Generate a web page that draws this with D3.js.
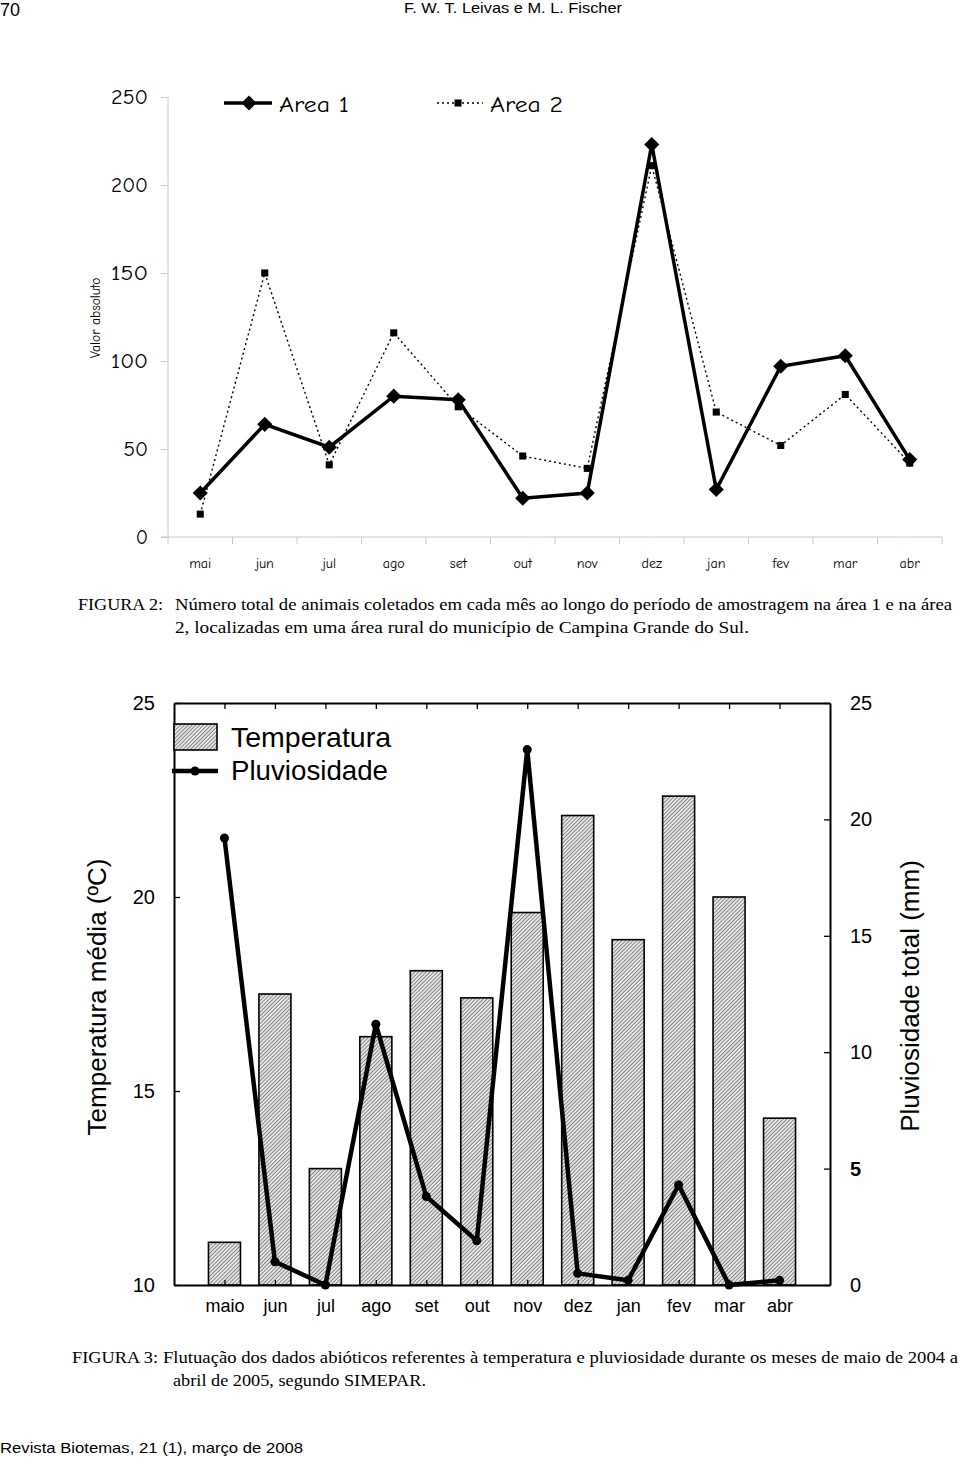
<!DOCTYPE html>
<html>
<head>
<meta charset="utf-8">
<script src="https://cdn.jsdelivr.net/npm/d3@7"></script>
<style>
  html, body { margin: 0; padding: 0; background: #fff; }
  svg { display: block; }
</style>
</head>
<body>
<svg id="page" width="960" height="1458"></svg>
<script>
// ---------- DATA ----------
const months1 = ['mai','jun','jul','ago','set','out','nov','dez','jan','fev','mar','abr'];
const area1 = [25, 64, 51, 80, 78, 22, 25, 223, 27, 97, 103, 44];
const area2 = [13, 150, 41, 116, 74, 46, 39, 211, 71, 52, 81, 42];
const yTicks1 = [0, 50, 100, 150, 200, 250];

const months2 = ['maio','jun','jul','ago','set','out','nov','dez','jan','fev','mar','abr'];
const temperatura = [11.1, 17.5, 13.0, 16.4, 18.1, 17.4, 19.6, 22.1, 18.9, 22.6, 20.0, 14.3];
const pluviosidade = [19.2, 1.0, 0.0, 11.2, 3.8, 1.9, 23.0, 0.5, 0.2, 4.3, 0.0, 0.2];
const tempTicks = [10, 15, 20, 25];
const pluvTicks = [0, 5, 10, 15, 20, 25];

// ---------- SETUP ----------
const svg = d3.select('#page');
const SANS = "'Liberation Sans', Arial, sans-serif";
const SERIF = "'Liberation Serif', 'Times New Roman', serif";
const COMIC = "'Comic Sans MS', 'Comic Neue', 'DejaVu Sans', sans-serif";

// page header / footer
svg.append('text').attr('x', 0).attr('y', 16).attr('font-family', SANS).attr('font-size', 18).text('70');
svg.append('text').attr('x', 404).attr('y', 13).attr('font-family', SANS).attr('font-size', 15)
  .attr('textLength', 218).attr('lengthAdjust', 'spacingAndGlyphs').text('F. W. T. Leivas e M. L. Fischer');
svg.append('text').attr('x', 0).attr('y', 1453).attr('font-family', SANS).attr('font-size', 15)
  .attr('textLength', 303).attr('lengthAdjust', 'spacingAndGlyphs').text('Revista Biotemas, 21 (1),  março de 2008');

// ---------- CHART 1 ----------
const g1 = svg.append('g');
const x1 = d3.scaleBand().domain(months1).range([168, 942]);
const y1 = d3.scaleLinear().domain([0, 250]).range([537, 97]);

// y axis
const yAx1 = g1.append('g').attr('transform', 'translate(168,0)')
  .call(d3.axisLeft(y1).tickValues(yTicks1).tickSize(7).tickPadding(13));
yAx1.selectAll('path, line').attr('stroke', '#c8c8c8');
yAx1.select('.domain').attr('d', `M0,${y1(250)}V${y1(0)}`);
yAx1.selectAll('text').attr('font-family', COMIC).attr('font-size', 21).attr('fill', '#000')
  .attr('textLength', d => String(d).length * 12.3).attr('lengthAdjust', 'spacingAndGlyphs');

// x axis
const xAx1 = g1.append('g').attr('transform', 'translate(0,537)');
xAx1.append('line').attr('x1', 161).attr('x2', x1.range()[1]).attr('y1', 0).attr('y2', 0).attr('stroke', '#c8c8c8');
xAx1.selectAll('line.tk').data(months1.concat(['_end'])).enter().append('line')
  .attr('class', 'tk')
  .attr('x1', (d, i) => x1.range()[0] + i * x1.step())
  .attr('x2', (d, i) => x1.range()[0] + i * x1.step())
  .attr('y1', 0).attr('y2', 7).attr('stroke', '#c8c8c8');
xAx1.selectAll('text').data(months1).enter().append('text')
  .attr('x', d => x1(d) + x1.bandwidth() / 2).attr('y', 31)
  .attr('text-anchor', 'middle').attr('font-family', COMIC).attr('font-size', 14).text(d => d);

// y label
g1.append('text').attr('transform', 'translate(100,318) rotate(-90)')
  .attr('text-anchor', 'middle').attr('font-family', COMIC).attr('font-size', 13.5).text('Valor absoluto');

const cx1 = (d, i) => x1(months1[i]) + x1.bandwidth() / 2;

// Area 2 dotted line
g1.append('path').datum(area2)
  .attr('d', d3.line().x(cx1).y(d => y1(d)))
  .attr('fill', 'none').attr('stroke', '#000').attr('stroke-width', 1.4).attr('stroke-dasharray', '2,3');
g1.selectAll('path.sq2').data(area2).enter().append('path').attr('class', 'sq2')
  .attr('d', d3.symbol(d3.symbolSquare, 50)())
  .attr('transform', (d, i) => `translate(${cx1(d, i)},${y1(d)})`).attr('fill', '#000');

// Area 1 solid line
g1.append('path').datum(area1)
  .attr('d', d3.line().x(cx1).y(d => y1(d)))
  .attr('fill', 'none').attr('stroke', '#000').attr('stroke-width', 3.5).attr('stroke-linejoin', 'miter');
g1.selectAll('path.dm1').data(area1).enter().append('path').attr('class', 'dm1')
  .attr('d', d3.symbol(d3.symbolSquare, 115)())
  .attr('transform', (d, i) => `translate(${cx1(d, i)},${y1(d)}) rotate(45)`).attr('fill', '#000');

// legend chart 1
const lg1 = g1.append('g');
lg1.append('line').attr('x1', 224).attr('x2', 272).attr('y1', 103).attr('y2', 103).attr('stroke', '#000').attr('stroke-width', 3.5);
lg1.append('path').attr('d', d3.symbol(d3.symbolSquare, 115)()).attr('transform', 'translate(249,103) rotate(45)');
lg1.append('text').attr('x', 279).attr('y', 112).attr('font-family', COMIC).attr('font-size', 23)
  .attr('textLength', 70).attr('lengthAdjust', 'spacingAndGlyphs').text('Area 1');
lg1.append('line').attr('x1', 437).attr('x2', 483).attr('y1', 103).attr('y2', 103).attr('stroke', '#000').attr('stroke-width', 1.4).attr('stroke-dasharray', '2,3');
lg1.append('path').attr('d', d3.symbol(d3.symbolSquare, 50)()).attr('transform', 'translate(458,103)');
lg1.append('text').attr('x', 490).attr('y', 112).attr('font-family', COMIC).attr('font-size', 23)
  .attr('textLength', 73).attr('lengthAdjust', 'spacingAndGlyphs').text('Area 2');

// caption 1
svg.append('text').attr('x', 78).attr('y', 610).attr('font-family', SERIF).attr('font-size', 16.5)
  .attr('textLength', 85).attr('lengthAdjust', 'spacingAndGlyphs').text('FIGURA 2:');
svg.append('text').attr('x', 175).attr('y', 610).attr('font-family', SERIF).attr('font-size', 16.5)
  .attr('textLength', 777).attr('lengthAdjust', 'spacingAndGlyphs')
  .text('Número total de animais coletados em cada mês ao longo do período de amostragem na área 1 e na área');
svg.append('text').attr('x', 175).attr('y', 633).attr('font-family', SERIF).attr('font-size', 16.5)
  .attr('textLength', 574).attr('lengthAdjust', 'spacingAndGlyphs')
  .text('2, localizadas em uma área rural do município de Campina Grande do Sul.');

// ---------- CHART 2 ----------
const g2 = svg.append('g');
const L = 174, R = 830, T = 703, B = 1285;
const x2 = d3.scalePoint().domain(months2).range([L, R]).padding(1);
const yT = d3.scaleLinear().domain([10, 25]).range([B, T]);
const yP = d3.scaleLinear().domain([0, 25]).range([B, T]);

const defs = svg.append('defs');
const pat = defs.append('pattern').attr('id', 'hatch').attr('patternUnits', 'userSpaceOnUse')
  .attr('width', 2.7).attr('height', 2.7).attr('patternTransform', 'rotate(45)');
pat.append('rect').attr('width', 2.7).attr('height', 2.7).attr('fill', '#e6e6e6');
pat.append('line').attr('x1', 0).attr('y1', 0).attr('x2', 0).attr('y2', 2.7).attr('stroke', '#4a4a4a').attr('stroke-width', 1.2);

// bars
const barW = 32;
g2.selectAll('rect.bar').data(temperatura).enter().append('rect').attr('class', 'bar')
  .attr('x', (d, i) => x2(months2[i]) - barW / 2)
  .attr('y', d => yT(d))
  .attr('width', barW)
  .attr('height', d => B - yT(d))
  .attr('fill', 'url(#hatch)').attr('stroke', '#000').attr('stroke-width', 1.6);

// axes
const axL = g2.append('g').attr('transform', `translate(${L},0)`)
  .call(d3.axisLeft(yT).tickValues(tempTicks).tickSizeInner(-6).tickSizeOuter(0).tickPadding(19));
const axR = g2.append('g').attr('transform', `translate(${R},0)`)
  .call(d3.axisRight(yP).tickValues(pluvTicks).tickSizeInner(-6).tickSizeOuter(0).tickPadding(20));
const axB = g2.append('g').attr('transform', `translate(0,${B})`)
  .call(d3.axisBottom(x2).tickSizeInner(-5).tickSizeOuter(0).tickPadding(14));
const axT = g2.append('g').attr('transform', `translate(0,${T})`)
  .call(d3.axisTop(x2).tickSizeInner(-6).tickSizeOuter(0).tickFormat(''));
[axL, axR, axB, axT].forEach(a => {
  a.selectAll('.domain').attr('stroke', '#000').attr('stroke-width', 2);
  a.selectAll('.tick line').attr('stroke', '#000').attr('stroke-width', 1.3);
  a.selectAll('text').attr('font-family', SANS).attr('fill', '#000');
});
axL.selectAll('text').attr('font-size', 20);
axR.selectAll('text').attr('font-size', 20).attr('font-weight', d => d === 5 ? 'bold' : 'normal');
axB.selectAll('text').attr('font-size', 18);

// line
g2.append('path').datum(pluviosidade)
  .attr('d', d3.line().x((d, i) => x2(months2[i])).y(d => yP(d)))
  .attr('fill', 'none').attr('stroke', '#000').attr('stroke-width', 4.5).attr('stroke-linejoin', 'miter');
g2.selectAll('circle.pt').data(pluviosidade).enter().append('circle').attr('class', 'pt')
  .attr('cx', (d, i) => x2(months2[i])).attr('cy', d => yP(d)).attr('r', 4.5).attr('fill', '#000');

// axis titles
g2.append('text').attr('transform', 'translate(106,997) rotate(-90)')
  .attr('text-anchor', 'middle').attr('font-family', SANS).attr('font-size', 26).text('Temperatura média (ºC)');
g2.append('text').attr('transform', 'translate(919,996) rotate(-90)')
  .attr('text-anchor', 'middle').attr('font-family', SANS).attr('font-size', 26).text('Pluviosidade total (mm)');

// legend chart 2
g2.append('rect').attr('x', 174).attr('y', 724).attr('width', 43).attr('height', 26)
  .attr('fill', 'url(#hatch)').attr('stroke', '#000').attr('stroke-width', 1.6);
g2.append('text').attr('x', 231).attr('y', 747).attr('font-family', SANS).attr('font-size', 28)
  .attr('textLength', 160).attr('lengthAdjust', 'spacingAndGlyphs').text('Temperatura');
g2.append('line').attr('x1', 172).attr('x2', 218).attr('y1', 771).attr('y2', 771).attr('stroke', '#000').attr('stroke-width', 4.5);
g2.append('circle').attr('cx', 195).attr('cy', 771).attr('r', 4.5);
g2.append('text').attr('x', 231).attr('y', 780).attr('font-family', SANS).attr('font-size', 28)
  .attr('textLength', 157).attr('lengthAdjust', 'spacingAndGlyphs').text('Pluviosidade');

// caption 2
svg.append('text').attr('x', 72).attr('y', 1363).attr('font-family', SERIF).attr('font-size', 17)
  .attr('textLength', 86).attr('lengthAdjust', 'spacingAndGlyphs').text('FIGURA 3:');
svg.append('text').attr('x', 163).attr('y', 1363).attr('font-family', SERIF).attr('font-size', 17)
  .attr('textLength', 795).attr('lengthAdjust', 'spacingAndGlyphs')
  .text('Flutuação dos dados abióticos referentes à temperatura e pluviosidade durante os meses de maio de 2004 a');
svg.append('text').attr('x', 173).attr('y', 1386).attr('font-family', SERIF).attr('font-size', 17)
  .attr('textLength', 253).attr('lengthAdjust', 'spacingAndGlyphs')
  .text('abril de 2005, segundo SIMEPAR.');
</script>
</body>
</html>
